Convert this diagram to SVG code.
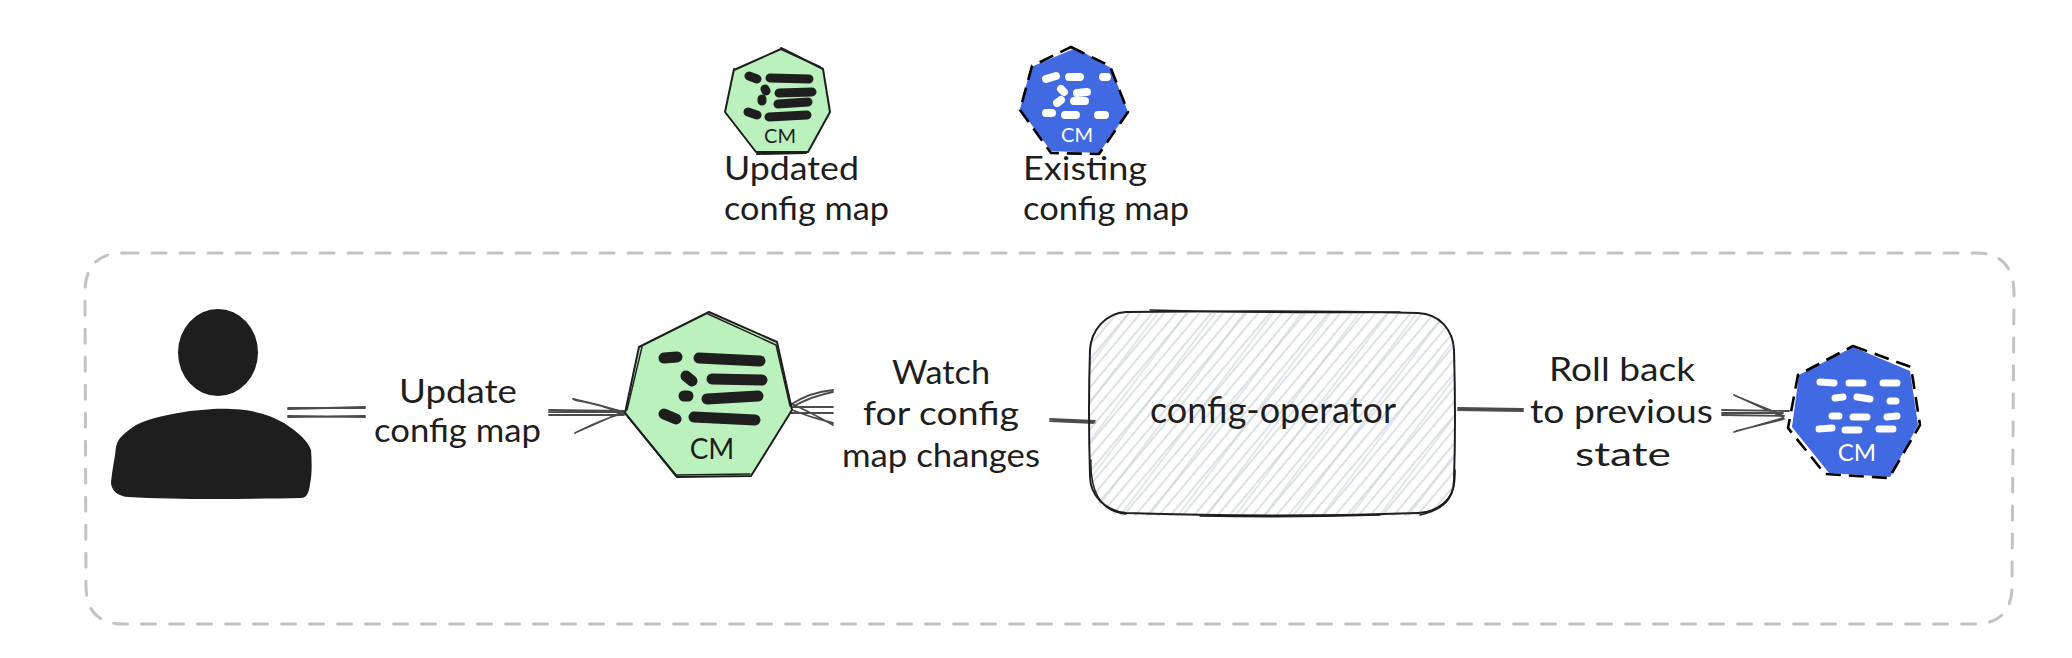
<svg xmlns="http://www.w3.org/2000/svg" width="2072" height="658" viewBox="0 0 2072 658">
<style>
.t{font-family:"Lato","Liberation Sans",sans-serif;font-size:32px;fill:#1e1e1e}
.cm{font-family:"Lato","Liberation Sans",sans-serif;text-anchor:middle}
.ink{fill:none;stroke:#1e1e1e;stroke-width:2;stroke-linejoin:round;stroke-linecap:round}
.thin{fill:none;stroke:#1e1e1e;stroke-width:1.4;stroke-linejoin:round;stroke-linecap:round}
.dash{fill:none;stroke:#000;stroke-width:2.6;stroke-dasharray:15 8;stroke-linejoin:round}
.conn{fill:none;stroke:#1e1e1e;stroke-opacity:.8;stroke-width:1.8;stroke-linecap:round}
.blk{fill:none;stroke:#1e1e1e;stroke-linecap:round}
.wht{fill:none;stroke:#fff;stroke-linecap:round}
.green{fill:#bbf1bd}
.blue{fill:#4169e1}
</style>
<defs>
<pattern id="h1" width="9" height="9" patternUnits="userSpaceOnUse" patternTransform="rotate(-50)"><line x1="0" y1="4" x2="9" y2="4" stroke="#ced4da" stroke-width="1.4"/></pattern>
<pattern id="h2" width="23" height="23" patternUnits="userSpaceOnUse" patternTransform="rotate(-53)"><line x1="0" y1="9" x2="23" y2="9" stroke="#ced4da" stroke-width="1.2"/></pattern>
</defs>
<rect width="2072" height="658" fill="#fff"/>

<g id="frame"><path d="M124 253 H1976 Q2013 253 2014 292 L2012 586 Q2012 624 1974 624 H124 Q86 624 86 586 L85 292 Q85 253 124 253Z" fill="none" stroke="#c2c2c2" stroke-width="3" stroke-linecap="round" stroke-dasharray="14 14"/></g>

<g id="legend-updated">
<polygon class="green" points="781,49 822,68 830,112 808,153 757,153 725,112 734,70"/>
<path class="ink" d="M734 70 L781 49 L820 67 M781 48 L823 69 L830 112 L808 152 L756 152 L725 112 L734 69 M757 154 L806 153"/>
<path class="blk" stroke-width="9" d="M749 76 L757 79 M770 78 L809 79 M765 89 L766 91 M779 93 L812 92 M762 99 L762 101 M778 104 L808 102 M748 112 L757 115 M769 117 L807 115"/>
<text class="cm" x="780" y="143" font-size="20" fill="#1e1e1e">CM</text>
<text class="t" x="724" y="180" textLength="135" lengthAdjust="spacingAndGlyphs">Updated</text>
<text class="t" x="724" y="220" textLength="165" lengthAdjust="spacingAndGlyphs">config map</text>
</g>

<g id="legend-existing">
<polygon class="blue" points="1076,48 1111,68 1128,112 1099,153 1051,151 1020,109 1031,67"/>
<path class="dash" d="M1071 47 L1110 66 L1128 112 L1099 154 L1051 153 L1020 110 L1032 66 Z"/>
<path class="wht" stroke-width="8" d="M1046 79 L1056 76 M1069 77 L1080 77 M1103 77 L1107 77 M1061 89 L1064 92 M1077 93 L1087 92 M1057 103 L1061 100 M1074 101 L1085 101 M1046 113 L1052 113 M1065 115 L1076 115 M1098 115 L1105 115"/>
<text class="cm" x="1077" y="142" font-size="20" fill="#fff">CM</text>
<text class="t" x="1023" y="180" textLength="124" lengthAdjust="spacingAndGlyphs">Existing</text>
<text class="t" x="1023" y="220" textLength="166" lengthAdjust="spacingAndGlyphs">config map</text>
</g>

<g id="connectors">
<path class="conn" d="M288 408 L365 408 M288 409 L365 407 M288 417 L365 416 M288 416 L365 417"/>
<path class="conn" d="M549 410 L624 411 M549 412 L622 412 M549 415 L624 415 M573 399 Q600 405 624 412 M575 400 Q600 404 622 413 M575 433 Q600 420 624 413 M577 432 Q600 422 622 412"/>
<path class="conn" d="M791 407 L833 407 M791 413 L833 413 M790 405 Q810 392 833 390 M792 407 Q812 396 833 392 M790 403 Q810 412 833 425 M792 410 Q812 418 833 423"/>
<path class="conn" d="M1050 419 L1095 421 M1050 421 L1095 423"/>
<path class="conn" d="M1458 408 L1523 409 M1458 410 L1523 411"/>
<path class="conn" d="M1722 410 L1789 411 M1722 413 L1783 413 M1722 415 L1783 416 M1734 395 L1783 417 M1736 396 L1784 416 M1734 432 L1783 418 M1736 431 L1784 419"/>
<g id="label-update">
<text class="t" x="399" y="403" textLength="118" lengthAdjust="spacingAndGlyphs">Update</text>
<text class="t" x="374" y="442" textLength="167" lengthAdjust="spacingAndGlyphs">config map</text>
</g>
<g id="label-watch">
<text class="t" x="892" y="384" textLength="98" lengthAdjust="spacingAndGlyphs">Watch</text>
<text class="t" x="863" y="425" textLength="156" lengthAdjust="spacingAndGlyphs">for config</text>
<text class="t" x="842" y="467" textLength="198" lengthAdjust="spacingAndGlyphs">map changes</text>
</g>
<g id="label-rollback">
<text class="t" x="1549" y="381" textLength="146" lengthAdjust="spacingAndGlyphs">Roll back</text>
<text class="t" x="1530" y="423" textLength="183" lengthAdjust="spacingAndGlyphs">to previous</text>
<text class="t" x="1575" y="466" textLength="96" lengthAdjust="spacingAndGlyphs">state</text>
</g>
</g>

<g id="user">
<ellipse cx="218" cy="352.5" rx="40" ry="43.5" fill="#1e1e1e"/>
<path fill="#1e1e1e" d="M213 409 C248 408 266 413 284 423 C298 432 308 441 311 450 C312 462 312 476 310 484 C309 492 307 498 301 498 C250 499 180 500 128 497 C117 496 111 490 111 482 C112 470 115 458 116 447 C118 437 126 432 136 425 C150 418 170 414 190 411 Z"/>
</g>

<g id="configmap-updated">
<polygon class="green" points="709,313 777,342 792,410 751,476 675,477 625,413 639,347"/>
<path class="ink" d="M709 312 L777 342 L792 410 L751 476 L677 477 L625 413 L639 347 Z"/>
<path class="thin" d="M708 314 L776 345 L790 406 M628 417 L676 475 L750 474 M642 347 L627 410"/>
<path class="blk" stroke-width="11" d="M664 358 L677 357 M699 358 L760 361 M686 376 L692 381 M712 379 L762 380 M684 396 L688 396 M707 399 L758 396 M664 414 L676 419 M694 417 L755 420"/>
<text class="cm" x="712" y="459" font-size="28" fill="#1e1e1e">CM</text>
</g>

<g id="config-operator">
<rect x="1090" y="313" width="364" height="203" rx="36" ry="34" fill="url(#h1)"/>
<rect x="1090" y="313" width="364" height="203" rx="36" ry="34" fill="url(#h2)"/>
<path class="ink" d="M1126 312 Q1290 310 1418 313 C1440 314 1453 330 1454 350 Q1456 420 1454 480 C1454 500 1438 512 1418 513 Q1280 518 1126 513 C1106 511 1090 496 1090 476 Q1088 410 1090 350 C1091 330 1106 313 1126 312 Z"/>
<path class="thin" d="M1150 310 Q1290 314 1400 312 M1091 460 C1090 490 1100 512 1126 514 M1455 470 C1456 495 1448 509 1420 515 M1200 516 Q1290 518 1380 515"/>
<text class="t" x="1150" y="423" style="font-size:36px" textLength="246" lengthAdjust="spacingAndGlyphs">config-operator</text>
</g>

<g id="configmap-existing">
<polygon class="blue" points="1853,347 1910,371 1918,425 1890,477 1829,473 1792,427 1799,375"/>
<path class="dash" d="M1853 346 L1911 367 L1920 425 L1889 478 L1825 474 L1788 428 L1798 375 Z"/>
<path class="wht" stroke-width="7" d="M1820 382 L1834 383 M1849 383 L1863 383 M1883 383 L1897 383 M1835 398 L1843 397 M1857 397 L1870 399 M1890 401 L1896 401 M1832 416 L1839 416 M1853 417 L1867 417 M1887 417 L1897 416 M1819 429 L1832 428 M1845 430 L1859 430 M1879 429 L1893 429"/>
<text class="cm" x="1857" y="461" font-size="24" fill="#fff">CM</text>
</g>
</svg>
